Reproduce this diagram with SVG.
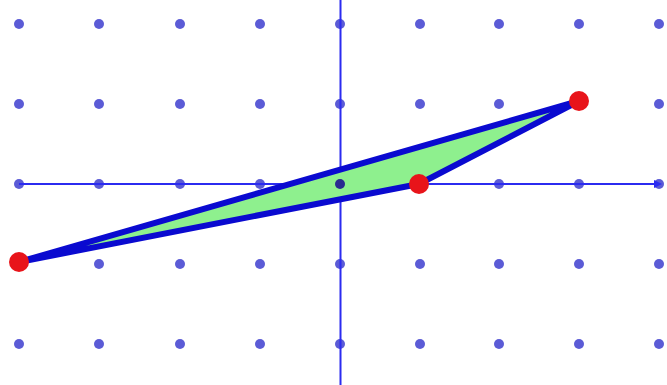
<svg xmlns="http://www.w3.org/2000/svg" width="667" height="385" viewBox="0 0 667 385">
<style>
.dot{fill:#5b5bd6}
.axis{stroke:#2b2bf0;stroke-width:2;fill:none}
.pt{fill:#e8141a}
</style>
<defs>
<marker id="ah" markerWidth="8" markerHeight="8" refX="6" refY="4" orient="auto" markerUnits="userSpaceOnUse">
<path d="M0,0 L8,4 L0,8 Z" fill="#2b2bf0"/>
</marker>
</defs>
<rect width="667" height="385" fill="#ffffff"/>
<g id="grid">
<g class="dot">
<circle cx="19" cy="24" r="5"/><circle cx="99" cy="24" r="5"/><circle cx="180" cy="24" r="5"/><circle cx="260" cy="24" r="5"/><circle cx="340" cy="24" r="5"/><circle cx="420" cy="24" r="5"/><circle cx="499" cy="24" r="5"/><circle cx="579" cy="24" r="5"/><circle cx="659" cy="24" r="5"/>
<circle cx="19" cy="104" r="5"/><circle cx="99" cy="104" r="5"/><circle cx="180" cy="104" r="5"/><circle cx="260" cy="104" r="5"/><circle cx="340" cy="104" r="5"/><circle cx="420" cy="104" r="5"/><circle cx="499" cy="104" r="5"/><circle cx="659" cy="104" r="5"/>
<circle cx="19" cy="184" r="5"/><circle cx="99" cy="184" r="5"/><circle cx="180" cy="184" r="5"/><circle cx="260" cy="184" r="5"/><circle cx="499" cy="184" r="5"/><circle cx="579" cy="184" r="5"/><circle cx="659" cy="184" r="5"/>
<circle cx="99" cy="264" r="5"/><circle cx="180" cy="264" r="5"/><circle cx="260" cy="264" r="5"/><circle cx="340" cy="264" r="5"/><circle cx="420" cy="264" r="5"/><circle cx="499" cy="264" r="5"/><circle cx="579" cy="264" r="5"/><circle cx="659" cy="264" r="5"/>
<circle cx="19" cy="344" r="5"/><circle cx="99" cy="344" r="5"/><circle cx="180" cy="344" r="5"/><circle cx="260" cy="344" r="5"/><circle cx="340" cy="344" r="5"/><circle cx="420" cy="344" r="5"/><circle cx="499" cy="344" r="5"/><circle cx="579" cy="344" r="5"/><circle cx="659" cy="344" r="5"/>
</g>
</g>
<g id="axes">
<line class="axis" x1="340.5" y1="0" x2="340.5" y2="385"/>
<line class="axis" x1="19" y1="184" x2="660" y2="184" marker-end="url(#ah)"/>
</g>
<g id="triangle">
<polygon points="19,262 579,101 419,184" fill="#8ef08e" stroke="#0a0ad0" stroke-width="6" stroke-linejoin="round"/>
<circle cx="340" cy="184" r="5" fill="#2a2a90"/>
</g>
<g id="points">
<circle class="pt" cx="19" cy="262" r="10"/>
<circle class="pt" cx="579" cy="101" r="10"/>
<circle class="pt" cx="419" cy="184" r="10"/>
</g>
</svg>
